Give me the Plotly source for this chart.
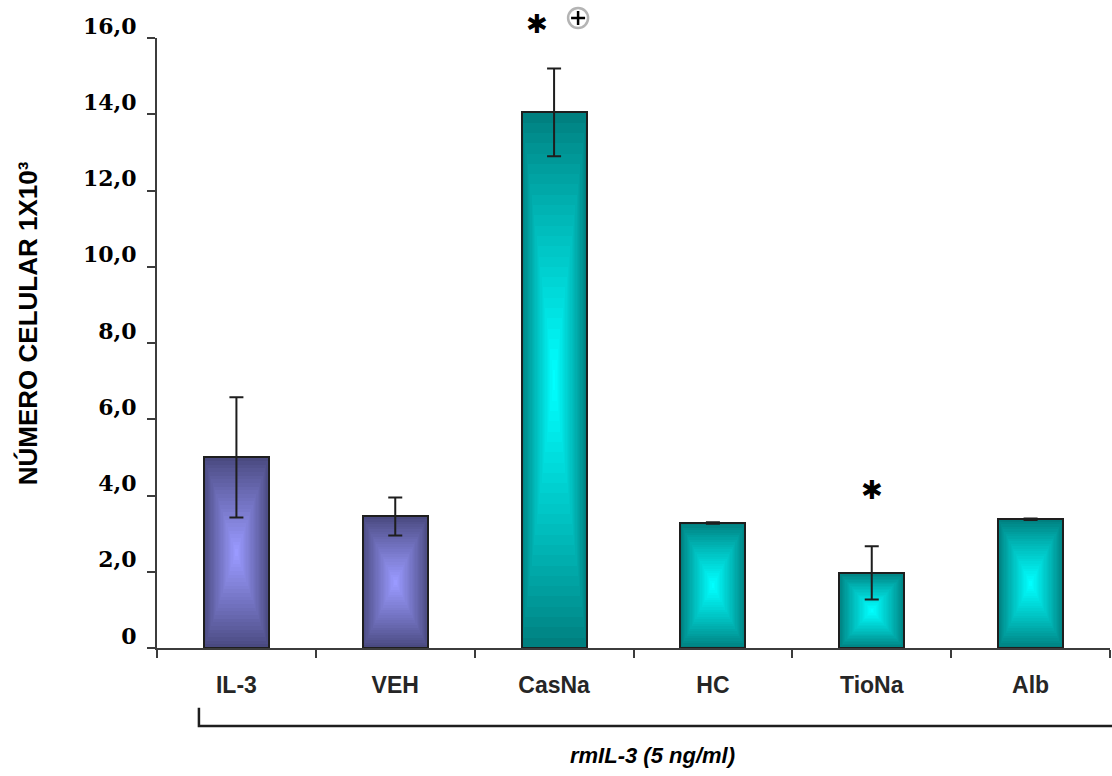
import plotly.graph_objects as go

# Cell counts (x10^3) per treatment, mean and SEM
categories = ["IL-3", "VEH", "CasNa", "HC", "TioNa", "Alb"]
means = [5.0, 3.45, 14.05, 3.28, 1.97, 3.38]
errors = [1.58, 0.5, 1.15, 0.02, 0.7, 0.02]
groups = ["control", "control", "treated", "treated", "treated", "treated"]
y_ticks = [0, 2, 4, 6, 8, 10, 12, 14, 16]
y_tick_text = ["0", "2,0", "4,0", "6,0", "8,0", "10,0", "12,0", "14,0", "16,0"]

# edge / centre colours of the box gradient for each group
palette = {
    "control": ((0x4a, 0x4a, 0x80), (0x9a, 0x9a, 0xff)),
    "treated": ((0x00, 0x80, 0x80), (0x00, 0xff, 0xff)),
}

BAR_W = 0.41
N_LAYERS = 26


def mix(c0, c1, t):
    return "rgb(%d,%d,%d)" % tuple(round(a + (b - a) * t) for a, b in zip(c0, c1))


fig = go.Figure()

# Rectangular "from centre" gradient: nested bars shrinking toward the middle
for k in range(N_LAYERS):
    s = 1 - k / N_LAYERS
    t = (k / (N_LAYERS - 1)) ** 0.9
    fig.add_trace(go.Bar(
        x=categories,
        y=[m * s for m in means],
        base=[m * (1 - s) / 2 for m in means],
        width=BAR_W * s,
        marker=dict(
            color=[mix(*palette[g], t) for g in groups],
            line=dict(width=0),
        ),
        hoverinfo="skip",
        showlegend=False,
    ))

# Outline of each bar
fig.add_trace(go.Bar(
    x=categories,
    y=means,
    width=BAR_W,
    marker=dict(color="rgba(0,0,0,0)", line=dict(color="#1e1e1e", width=2)),
    showlegend=False,
))

# Error bars
fig.add_trace(go.Scatter(
    x=categories,
    y=means,
    mode="markers",
    marker=dict(size=1, color="rgba(0,0,0,0)"),
    error_y=dict(type="data", array=errors, visible=True,
                 color="#1e1e1e", thickness=2, width=7),
    showlegend=False,
))

# Significance marks
fig.add_annotation(x="CasNa", y=means[2] + errors[2], text="✱", showarrow=False,
                   xshift=-17, yshift=45, font=dict(family="DejaVu Sans", size=26, color="black"))
fig.add_annotation(x="TioNa", y=means[4] + errors[4], text="✱", showarrow=False,
                   xshift=0, yshift=56, font=dict(family="DejaVu Sans", size=26, color="black"))

# Circled plus next to the CasNa asterisk (paper x of the CasNa slot)
cas_x = (categories.index("CasNa") + 0.5) / len(categories)
fig.add_shape(type="circle", xref="paper", yref="paper", xsizemode="pixel", ysizemode="pixel",
              xanchor=cas_x, yanchor=1, x0=14, x1=34, y0=10, y1=30,
              line=dict(color="#b4b4b4", width=2.5), fillcolor="white")
fig.add_shape(type="line", xref="paper", yref="paper", xsizemode="pixel", ysizemode="pixel",
              xanchor=cas_x, yanchor=1, x0=17, x1=31, y0=20, y1=20,
              line=dict(color="black", width=2.5))
fig.add_shape(type="line", xref="paper", yref="paper", xsizemode="pixel", ysizemode="pixel",
              xanchor=cas_x, yanchor=1, x0=24, x1=24, y0=13, y1=27,
              line=dict(color="black", width=2.5))

# Bracket grouping all treatments under rmIL-3
fig.add_shape(type="path", xref="paper", yref="paper",
              path="M 0.044,-0.098 L 0.044,-0.128 L 1.01,-0.128",
              line=dict(color="#1e1e1e", width=2.5))
fig.add_annotation(xref="paper", yref="paper", x=0.52, y=-0.177, text="<b><i>rmIL-3 (5 ng/ml)</i></b>",
                   showarrow=False, xanchor="center", yanchor="middle",
                   font=dict(family="Liberation Sans", size=22, color="black"))

# Y-axis title
fig.add_annotation(xref="paper", yref="paper", x=-0.136, y=0.533, text="<b>NÚMERO CELULAR 1X10³</b>",
                   textangle=-90, showarrow=False, xanchor="center", yanchor="middle",
                   font=dict(family="Liberation Sans", size=26, color="black"))

fig.update_layout(
    width=1112, height=776,
    margin=dict(l=157, r=2, t=38, b=128),
    paper_bgcolor="white", plot_bgcolor="white",
    barmode="overlay",
    bargap=0,
    showlegend=False,
    xaxis=dict(
        type="category", categoryorder="array", categoryarray=categories,
        range=[-0.5, 5.5],
        showline=True, linecolor="#3c3c3c", linewidth=2,
        ticks="outside", tickson="boundaries", ticklen=8, tickwidth=2, tickcolor="#3c3c3c",
        tickfont=dict(family="Liberation Sans", size=23, color="#262626", weight="bold"),
        ticklabelstandoff=15,
        showgrid=False, zeroline=False,
    ),
    yaxis=dict(
        range=[0, 16],
        tickvals=y_ticks, ticktext=y_tick_text,
        showline=True, linecolor="#3c3c3c", linewidth=2,
        ticks="outside", ticklen=8, tickwidth=2, tickcolor="#3c3c3c",
        tickfont=dict(family="DejaVu Serif", size=22, color="black", weight="bold"),
        ticklabelshift=-12, ticklabelstandoff=6,
        showgrid=False, zeroline=False,
    ),
)

fig.write_html("out.html")
